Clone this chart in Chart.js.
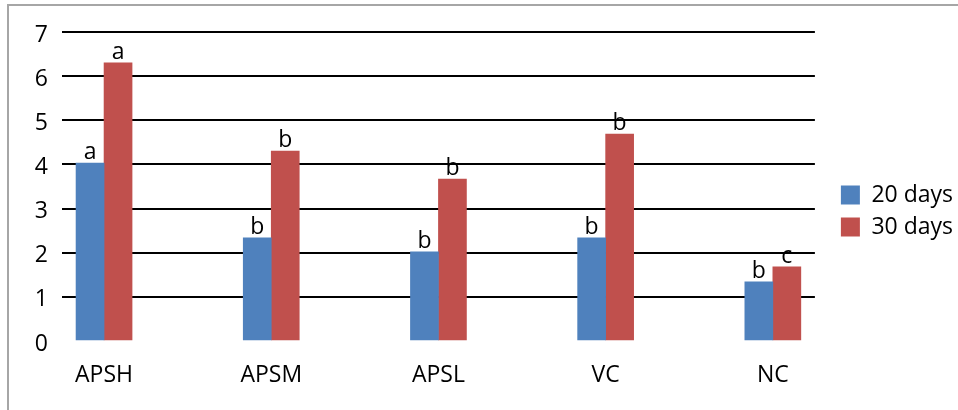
<!DOCTYPE html>
<html><head><meta charset="utf-8">
<script src="https://cdn.jsdelivr.net/npm/chart.js@4"></script>
<style>
html,body{margin:0;padding:0;background:#fff;overflow:hidden;}
#wrap{position:relative;width:958px;height:410px;overflow:hidden;}
#frame{position:absolute;left:7px;top:4px;width:960px;height:420px;border:2px solid #a6a6a6;box-sizing:border-box;}
canvas{position:absolute;left:0;top:0;}
</style></head><body>
<div id="wrap"><div id="frame"></div><canvas id="c" width="958" height="410"></canvas></div>
<script>
// ---- data ----
const categories = ['APSH', 'APSM', 'APSL', 'VC', 'NC'];
const seriesNames = ['20 days', '30 days'];
const days20 = [4.03, 2.34, 2.02, 2.34, 1.34];
const days30 = [6.30, 4.30, 3.67, 4.69, 1.68];
const letters20 = ['a', 'b', 'b', 'b', 'b'];
const letters30 = ['a', 'b', 'b', 'b', 'c'];
const yTicks = [0, 1, 2, 3, 4, 5, 6, 7];

// ---- styles ----
const FONT = '"Open Sans"';
const FSIZE = 23;
const BLUE = '#4F81BD';
const RED = '#C0504D';

const letterPlugin = {
  id: 'letters',
  afterDatasetsDraw(chart) {
    const ctx = chart.ctx;
    ctx.save();
    ctx.font = FSIZE + 'px ' + FONT;
    ctx.fillStyle = '#000';
    ctx.textAlign = 'center';
    ctx.textBaseline = 'alphabetic';
    [letters20, letters30].forEach((L, di) => {
      chart.getDatasetMeta(di).data.forEach((bar, i) => {
        ctx.fillText(L[i], bar.x, bar.y - 4);
      });
    });
    ctx.restore();
  }
};

const legendShift = {
  id: 'legendShift',
  afterLayout(chart) {
    const lg = chart.legend;
    const dx = chart.chartArea.right + 17 - lg.left;
    const dy = -10;
    lg.left += dx; lg.right += dx;
    lg.top += dy; lg.bottom += dy;
  }
};

function draw() {
  Chart.defaults.font.family = FONT;
  Chart.defaults.font.size = FSIZE;
  Chart.defaults.color = '#000';
  new Chart(document.getElementById('c'), {
    type: 'bar',
    data: {
      datasets: [
        { label: seriesNames[0], data: days20.map((v, i) => ({ x: i, y: v })), backgroundColor: BLUE, borderWidth: 0, barThickness: 28 },
        { label: seriesNames[1], data: days30.map((v, i) => ({ x: i, y: v })), backgroundColor: RED, borderWidth: 0, barThickness: 28 }
      ]
    },
    options: {
      responsive: false,
      animation: false,
      events: [],
      layout: { padding: { left: 10, right: 12, top: 32, bottom: 0 } },
      plugins: {
        legend: {
          position: 'right',
          labels: { boxWidth: 19, boxHeight: 19, padding: 9, font: { size: FSIZE, family: FONT }, color: '#000' }
        },
        tooltip: { enabled: false }
      },
      scales: {
        x: {
          type: 'linear',
          min: -0.2515, max: 4.2515,
          offset: false,
          grid: { display: false },
          border: { display: false },
          afterBuildTicks: s => { s.ticks = categories.map((c, i) => ({ value: i })); },
          afterFit: s => { s.height = 69; },
          ticks: { autoSkip: false, maxRotation: 0, padding: 13, callback: v => categories[v] ?? '' }
        },
        y: {
          min: 0, max: 7,
          afterBuildTicks: s => { s.ticks = yTicks.map(v => ({ value: v })); },
          afterFit: s => { s.width = 52; },
          border: { display: false },
          grid: { drawTicks: false, lineWidth: 2, color: ctx => ctx.tick && ctx.tick.value === 0 ? 'rgba(0,0,0,0)' : '#000' },
          ticks: { padding: 14, labelOffset: 3 }
        }
      }
    },
    plugins: [letterPlugin, legendShift]
  });
}
document.fonts.load(FSIZE + 'px ' + FONT).then(draw, draw);
</script>
</body></html>
